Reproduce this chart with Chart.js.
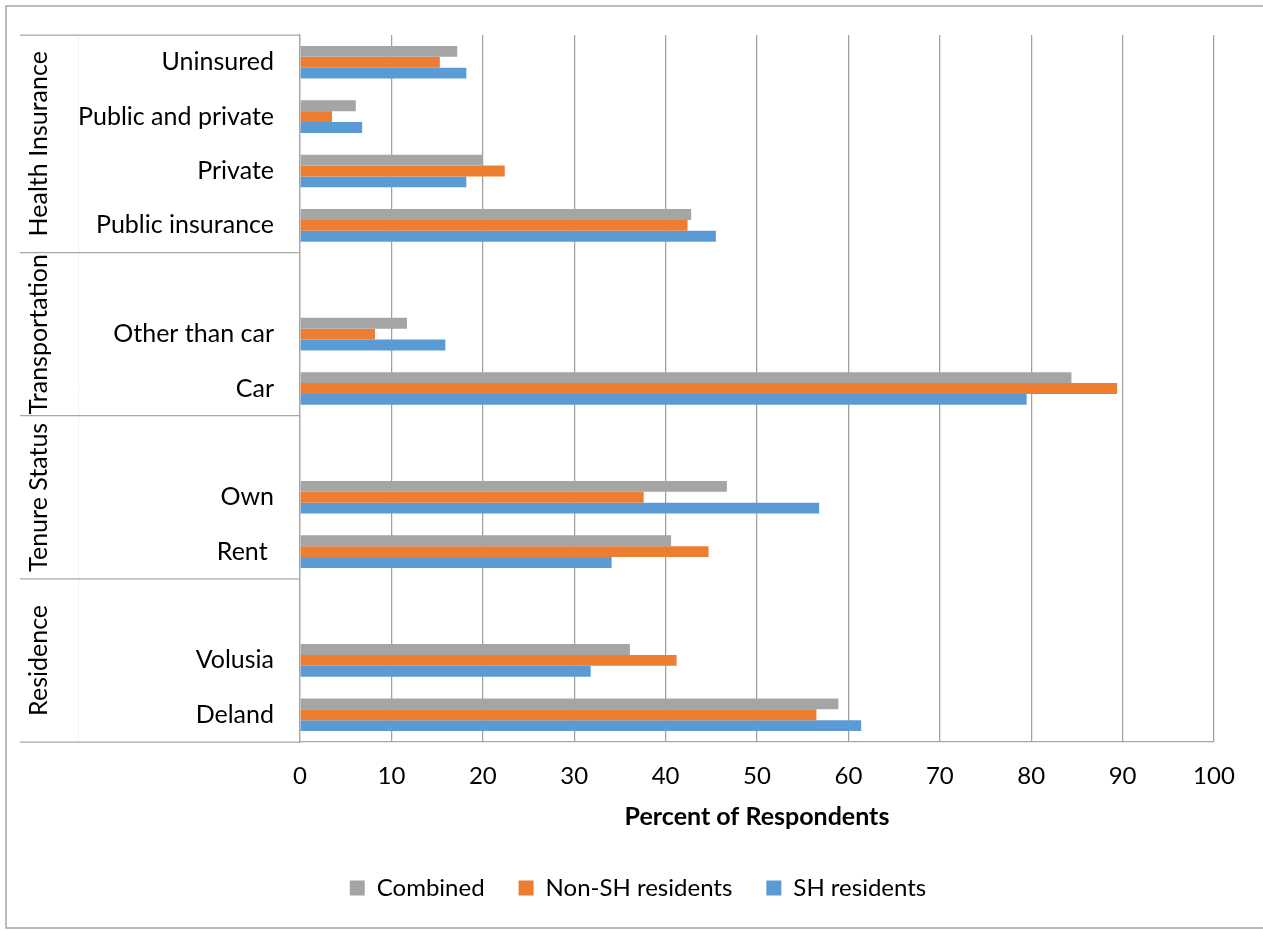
<!DOCTYPE html>
<html>
<head>
<meta charset="utf-8">
<title>Respondent characteristics by residence group</title>
<script src="https://cdn.jsdelivr.net/npm/chart.js@4.4.1/dist/chart.umd.min.js"></script>
<style>
  html, body { margin: 0; padding: 0; background: #ffffff; }
  canvas { display: block; }
</style>
</head>
<body>
<canvas id="chart" width="1263" height="930"></canvas>
<script>
// Categories listed top to bottom; blank entries leave a gap row at the top of each group
const categories = ['Uninsured', 'Public and private', 'Private', 'Public insurance',
                    '', 'Other than car', 'Car',
                    ' ', 'Own', 'Rent ',
                    '  ', 'Volusia', 'Deland'];

// Percent of respondents per category
const combined       = [17.2, 6.1, 20.0, 42.8, null, 11.7, 84.4, null, 46.7, 40.6, null, 36.1, 58.9];
const nonShResidents = [15.3, 3.5, 22.4, 42.4, null,  8.2, 89.4, null, 37.6, 44.7, null, 41.2, 56.5];
const shResidents    = [18.2, 6.8, 18.2, 45.5, null, 15.9, 79.5, null, 56.8, 34.1, null, 31.8, 61.4];

const seriesNames = ['Combined', 'Non-SH residents', 'SH residents'];
const seriesColors = ['#a5a5a5', '#ed7d31', '#5b9bd5'];

// Category groups (first and last category index of each group)
const groupNames = ['Health Insurance', 'Transportation', 'Tenure Status', 'Residence'];
const groupFirst = [0, 4, 7, 10];
const groupLast  = [3, 6, 9, 12];

// Percent axis
const axisMin = 0;
const axisMax = 100;
const axisStep = 10;
const axisTitle = 'Percent of Respondents';

const FONT = 'Lato';
const LINE_GRAY = '#a6a6a6';

// Frame, group separators and rotated group names in the category label column
const groupLabels = {
  id: 'groupLabels',
  beforeDraw(chart) {
    const ctx = chart.ctx;
    ctx.save();
    ctx.fillStyle = '#ffffff';
    ctx.fillRect(0, 0, chart.width, chart.height);
    ctx.strokeStyle = LINE_GRAY;
    ctx.lineWidth = 1.5;
    ctx.strokeRect(6, 6, chart.width + 10, 922);
    ctx.restore();
  },
  afterDraw(chart) {
    const ctx = chart.ctx;
    const yScale = chart.scales.y;
    const area = chart.chartArea;
    ctx.save();
    // faint column divider
    ctx.strokeStyle = '#f3f3f3';
    ctx.lineWidth = 1;
    ctx.beginPath();
    ctx.moveTo(78.5, area.top);
    ctx.lineTo(78.5, area.bottom);
    ctx.stroke();

    ctx.strokeStyle = LINE_GRAY;
    ctx.lineWidth = 1.25;
    const edges = new Set();
    groupFirst.forEach((f, i) => { edges.add(f - 0.5); edges.add(groupLast[i] + 0.5); });
    edges.forEach(v => {
      const py = yScale.getPixelForValue(v);
      ctx.beginPath();
      ctx.moveTo(20, py);
      ctx.lineTo(area.left, py);
      ctx.stroke();
    });

    ctx.fillStyle = '#000000';
    ctx.font = '25px ' + FONT;
    ctx.textAlign = 'center';
    ctx.textBaseline = 'middle';
    groupNames.forEach((name, i) => {
      const top = yScale.getPixelForValue(groupFirst[i] - 0.5);
      const bottom = yScale.getPixelForValue(groupLast[i] + 0.5);
      ctx.save();
      ctx.translate(39, (top + bottom) / 2);
      ctx.rotate(-Math.PI / 2);
      ctx.fillText(name, 0, 0);
      ctx.restore();
    });
    ctx.restore();
  }
};

function draw() {
  Chart.defaults.font.family = FONT;
  Chart.defaults.color = '#000000';

  const seriesData = [combined, nonShResidents, shResidents];
  const datasets = seriesNames.map((name, i) => ({
    label: name,
    data: seriesData[i],
    backgroundColor: seriesColors[i],
    borderWidth: 0,
    categoryPercentage: 0.6,
    barPercentage: 1.0
  }));

  new Chart(document.getElementById('chart'), {
    type: 'bar',
    data: { labels: categories, datasets: datasets },
    options: {
      indexAxis: 'y',
      responsive: false,
      animation: false,
      devicePixelRatio: 1,
      layout: { padding: { left: 62, top: 35, right: 49, bottom: 20 } },
      plugins: {
        legend: {
          position: 'bottom',
          labels: {
            font: { size: 24 },
            boxWidth: 15,
            boxHeight: 15,
            padding: 34,
            color: '#000000'
          }
        },
        tooltip: { enabled: false }
      },
      scales: {
        x: {
          min: axisMin,
          max: axisMax,
          ticks: { stepSize: axisStep, padding: 20, font: { size: 24 }, color: '#000000' },
          grid: { color: '#a0a0a0', lineWidth: 1.25, drawTicks: false },
          border: { display: true, color: LINE_GRAY, width: 1.25 },
          title: {
            display: true,
            text: axisTitle,
            font: { size: 25, weight: 'bold' },
            color: '#000000',
            padding: { top: 0, bottom: 10 }
          },
          afterFit(scale) { scale.height = 100; }
        },
        y: {
          ticks: { padding: 26, font: { size: 25 }, color: '#000000', autoSkip: false },
          grid: { display: false, drawTicks: false },
          border: { display: true, color: LINE_GRAY, width: 1.25 },
          afterFit(scale) {
            scale.width = 238;
            scale.paddingTop = 0;
            scale.paddingBottom = 0;
          }
        }
      }
    },
    plugins: [groupLabels]
  });
}

if (document.fonts && document.fonts.load) {
  Promise.all([
    document.fonts.load('24px ' + FONT),
    document.fonts.load('bold 25px ' + FONT)
  ]).then(draw, draw);
} else {
  draw();
}
</script>
</body>
</html>
